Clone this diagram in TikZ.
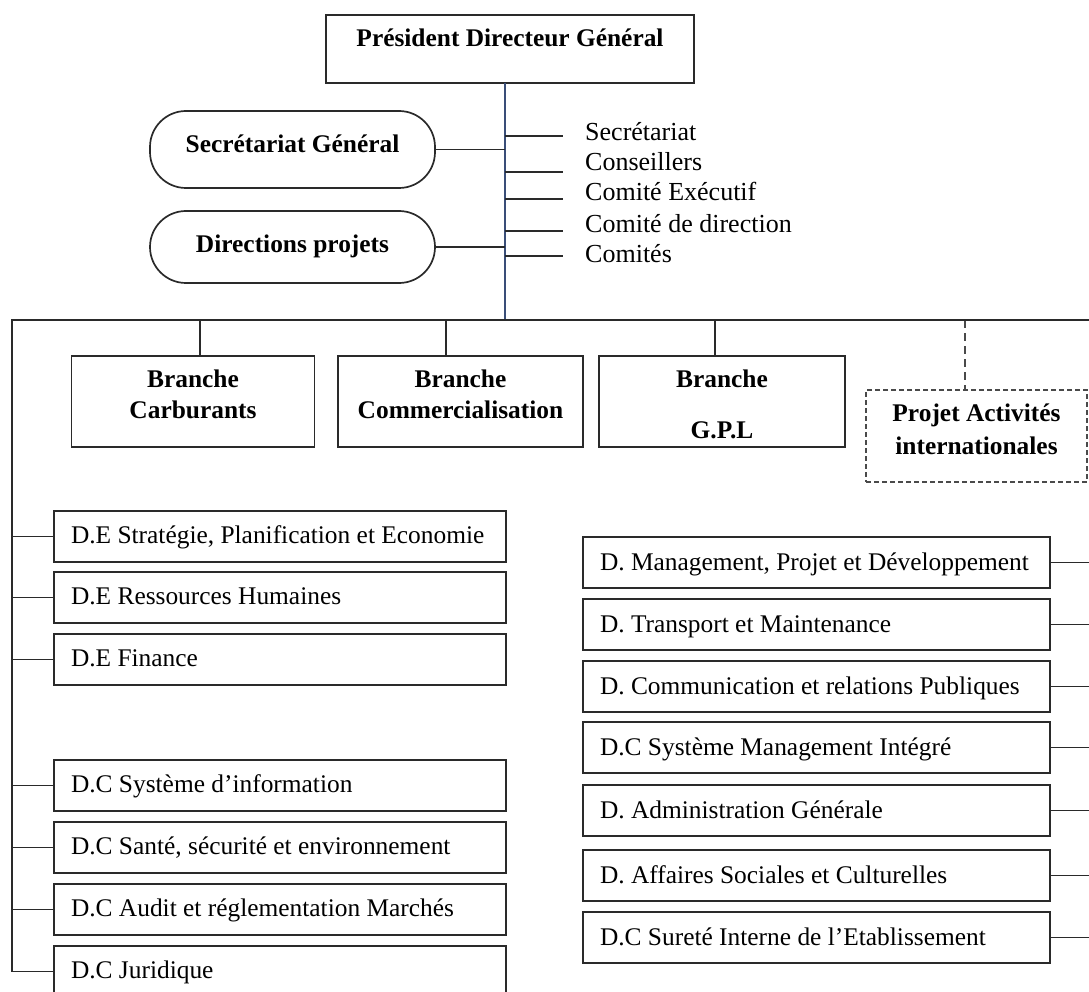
\documentclass[tikz,border=0pt]{standalone}
\usepackage{fontspec}
\setmainfont{Liberation Serif}
\definecolor{lc}{HTML}{2A2A2A}
\definecolor{tc}{HTML}{3A4E78}
\newcommand\cbx[4]{\parbox[c][#2][t]{#1}{\centering\vspace*{#3}\strut #4\par}}
\newcommand\lbx[3]{\parbox[c][51pt][t]{#1}{\vspace*{#2}\hspace*{17pt}\strut #3\par}}
\tikzset{
  bx/.style={draw=lc, line width=1.9pt, inner sep=0pt, outer sep=0pt, anchor=north west,
    font=\fontsize{25.4}{31}\selectfont},
  bbx/.style={bx, font=\fontsize{25.4}{31}\selectfont\bfseries},
  pill/.style={bbx, line width=1.7pt, rounded corners=36pt},
  dbx/.style={bbx, draw=lc!85, dash pattern=on 5pt off 3pt, line width=1.5pt},
  conn/.style={draw=lc, line width=1.9pt},
  dconn/.style={draw=lc!85, line width=1.5pt, dash pattern=on 8pt off 5pt},
  trunk/.style={draw=tc, line width=1.5pt},
  item/.style={anchor=base west, inner sep=0pt, font=\fontsize{26}{31}\selectfont},
}
\begin{document}
\begin{tikzpicture}[x=1pt, y=-1pt]
\useasboundingbox (0,0) rectangle (1089,992);
% top
\node[bbx] (pdg) at (326,15) {\cbx{368pt}{68pt}{10pt}{Président Directeur Général}};
\node[pill] (sg) at (150,111) {\cbx{285pt}{77pt}{19.5pt}{Secrétariat Général}};
\node[pill] (dp) at (150,211) {\cbx{285pt}{72pt}{20.3pt}{Directions projets}};
% trunk and bus
\coordinate (tk) at (505,320);
\coordinate (busL) at (12,320);
\coordinate (busR) at (1089,320);
\draw[trunk] (pdg.south -| tk) -- (tk);
\draw[conn] (sg.east) -- (sg.east -| tk);
\draw[conn] (dp.east) -- (dp.east -| tk);
% side list
\foreach \n/\y in {i1/136, i2/172, i3/199, i4/231, i5/256}{
  \coordinate (\n a) at (505,\y);
  \coordinate (\n b) at (563,\y);
  \draw[conn, line width=1.7pt] (\n a) -- (\n b);
}
\node[item] (s1) at (585,140.7) {Secrétariat};
\node[item] (s2) at (585,170.7) {Conseillers};
\node[item] (s3) at (585,200.7) {Comité Exécutif};
\node[item] (s4) at (585,232.7) {Comité de direction};
\node[item] (s5) at (585,262.7) {Comités};
% branches
\node[bbx] (b1) at (71.5,356) {\cbx{243pt}{91pt}{9.3pt}{Branche\\Carburants}};
\node[bbx] (b2) at (338,356) {\cbx{245pt}{91pt}{9.3pt}{Branche\\Commercialisation}};
\node[bbx] (b3) at (599,356) {\cbx{246pt}{91pt}{9.3pt}{Branche\\[20pt]G.P.L}};
\node[dbx] (pai) at (866,390) {\cbx{221pt}{92pt}{10pt}{Projet Activités\\[2pt]internationales}};
\coordinate (j1) at (200,320);
\coordinate (j2) at (446,320);
\coordinate (j3) at (715,320);
\coordinate (j4) at (965,320);
\draw[conn, line width=1.6pt] (j1) -- (j1 |- b1.north);
\draw[conn, line width=1.6pt] (j2) -- (j2 |- b2.north);
\draw[conn, line width=1.6pt] (j3) -- (j3 |- b3.north);
\draw[dconn] (j4) -- (j4 |- pai.north);
% left boxes
\node[bx] (l1) at (54,511) {\lbx{452pt}{10.8pt}{D.E Stratégie, Planification et Economie}};
\node[bx] (l2) at (54,572) {\lbx{452pt}{10.8pt}{D.E Ressources Humaines}};
\node[bx] (l3) at (54,634) {\lbx{452pt}{10.8pt}{D.E Finance}};
\node[bx] (l4) at (54,760) {\lbx{452pt}{10.8pt}{D.C Système d’information}};
\node[bx] (l5) at (54,822) {\lbx{452pt}{10.8pt}{D.C Santé, sécurité et environnement}};
\node[bx] (l6) at (54,884) {\lbx{452pt}{10.8pt}{D.C Audit et réglementation Marchés}};
\node[bx] (l7) at (54,946) {\lbx{452pt}{10.8pt}{D.C Juridique}};
\draw[conn] (busR) -- (busL) -- (busL |- l7.west) -- (l7.west);
\foreach \b in {l1,l2,l3,l4,l5,l6}{
  \draw[conn] (\b.west -| busL) -- (\b.west);
}
% right boxes
\node[bx] (r1) at (583,537) {\lbx{467pt}{11.3pt}{D. Management, Projet et Développement}};
\node[bx] (r2) at (583,599) {\lbx{467pt}{11.3pt}{D. Transport et Maintenance}};
\node[bx] (r3) at (583,661) {\lbx{467pt}{11.3pt}{D. Communication et relations Publiques}};
\node[bx] (r4) at (583,722) {\lbx{467pt}{11.3pt}{D.C Système Management Intégré}};
\node[bx] (r5) at (583,785) {\lbx{467pt}{11.3pt}{D. Administration Générale}};
\node[bx] (r6) at (583,850) {\lbx{467pt}{11.3pt}{D. Affaires Sociales et Culturelles}};
\node[bx] (r7) at (583,912) {\lbx{467pt}{11.3pt}{D.C Sureté Interne de l’Etablissement}};
\coordinate (redge) at (1089,0);
\foreach \b in {r1,r2,r3,r4,r5,r6,r7}{
  \draw[conn] (\b.east) -- (\b.east -| redge);
}
\end{tikzpicture}
\end{document}
